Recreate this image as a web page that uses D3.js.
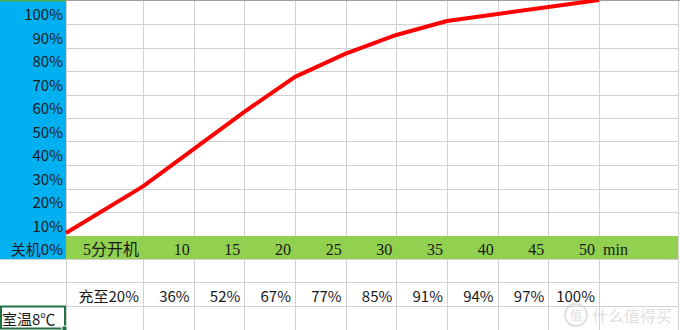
<!DOCTYPE html>
<html>
<head>
<meta charset="utf-8">
<script src="https://cdn.jsdelivr.net/npm/d3@7"></script>
<style>
  body { margin: 0; background: #fff; }
  svg { display: block; }
</style>
</head>
<body>
<div id="sheet"></div>
<script>
// data
const times = [0, 5, 10, 15, 20, 25, 30, 35, 40, 45, 50]
const charge = [0, 20, 36, 52, 67, 77, 85, 91, 94, 97, 100]
const yLabels = ["100%", "90%", "80%", "70%", "60%", "50%", "40%", "30%", "20%", "10%", "关机0%"]
const xLabels = ["5分开机", "10", "15", "20", "25", "30", "35", "40", "45", "50"]
const unitLabel = "min"
const chargeLabels = charge.slice(1).map((v, i) => (i === 0 ? "充至" : "") + v + "%")
const noteLabel = "室温8℃"
const watermark = "什么值得买"

const w = 680
const h = 330
const colA = 66
const rightEdge = 678

const svg = d3.select("#sheet")
    .append("svg")
    .attr("width", w)
    .attr("height", h)

// scales: minutes -> column right edge, percent -> chart y, row index -> row top
const x = d3.scaleLinear().domain([0, 5, 50]).range([colA, 143, 599])
const y = d3.scaleLinear().domain([0, 100]).range([233, 0])
const row = d3.scaleLinear().domain([0, 14]).range([0.5, 329.5])
const crisp = v => Math.round(v) + 0.5

// grid lines
const grid = svg.append("g").attr("stroke", "#d0d0d0").attr("stroke-width", 1)
grid.selectAll("line.h")
    .data(d3.range(1, 15))
    .enter().append("line")
    .attr("class", "h")
    .attr("x1", 0).attr("x2", rightEdge)
    .attr("y1", d => crisp(row(d))).attr("y2", d => crisp(row(d)))
grid.selectAll("line.v")
    .data(times.map(t => x(t)).concat([rightEdge]))
    .enter().append("line")
    .attr("class", "v")
    .attr("x1", d => crisp(d)).attr("x2", d => crisp(d))
    .attr("y1", 0).attr("y2", h)

// coloured cells
svg.append("rect")
    .attr("x", 0).attr("y", 0)
    .attr("width", colA).attr("height", Math.round(row(11)))
    .attr("fill", "#00b0f0")
svg.append("rect")
    .attr("x", colA).attr("y", Math.round(row(10)))
    .attr("width", rightEdge - colA).attr("height", Math.round(row(11)) - Math.round(row(10)))
    .attr("fill", "#92d050")

// top border
svg.append("line")
    .attr("x1", colA).attr("x2", w).attr("y1", 0.5).attr("y2", 0.5)
    .attr("stroke", "#a0a0a0")
svg.append("rect")
    .attr("x", 0).attr("y", 0).attr("width", colA).attr("height", 1.5)
    .attr("fill", "#4caf50")

// y labels in the blue column
svg.append("g")
    .selectAll("text")
    .data(yLabels)
    .enter().append("text")
    .attr("x", colA - 3)
    .attr("y", (d, i) => row(i + 1) - 4)
    .attr("text-anchor", "end")
    .attr("font-family", "Noto Sans CJK SC, sans-serif")
    .attr("font-size", "15px")
    .attr("fill", "#1a1a1a")
    .text(d => d)

// minute labels in the green row
svg.append("g")
    .selectAll("text")
    .data(xLabels)
    .enter().append("text")
    .attr("x", (d, i) => x(times[i + 1]) - 4)
    .attr("y", row(11) - 4)
    .attr("text-anchor", "end")
    .attr("font-family", "Liberation Serif, Noto Sans CJK SC, serif")
    .attr("font-size", "16px")
    .attr("fill", "#1a1a1a")
    .text(d => d)
svg.append("text")
    .attr("x", x(50) + 4)
    .attr("y", row(11) - 4)
    .attr("font-family", "Liberation Serif, serif")
    .attr("font-size", "16px")
    .attr("fill", "#1a1a1a")
    .text(unitLabel)

// charge labels
svg.append("g")
    .selectAll("text")
    .data(chargeLabels)
    .enter().append("text")
    .attr("x", (d, i) => x(times[i + 1]) - 4)
    .attr("y", row(13) - 4)
    .attr("text-anchor", "end")
    .attr("font-family", "Noto Sans CJK SC, sans-serif")
    .attr("font-size", "15px")
    .attr("fill", "#1a1a1a")
    .text(d => d)

// note cell, selected
svg.append("text")
    .attr("x", 2)
    .attr("y", row(14) - 5)
    .attr("font-family", "Noto Sans CJK SC, sans-serif")
    .attr("font-size", "15px")
    .attr("fill", "#1a1a1a")
    .text(noteLabel)
svg.append("rect")
    .attr("x", 1).attr("y", Math.round(row(13)) + 0.5)
    .attr("width", colA - 2).attr("height", 22)
    .attr("fill", "none")
    .attr("stroke", "#217346")
    .attr("stroke-width", 2)
svg.append("rect")
    .attr("x", colA - 4).attr("y", h - 4)
    .attr("width", 5).attr("height", 5)
    .attr("fill", "#217346")
    .attr("stroke", "#fff")

// charge curve
const line = d3.line()
    .x(d => x(d.t))
    .y(d => y(d.v))
svg.append("path")
    .datum(times.map((t, i) => ({t: t, v: charge[i]})))
    .attr("d", line)
    .attr("fill", "none")
    .attr("stroke", "#ff0000")
    .attr("stroke-width", 4)
    .attr("stroke-linejoin", "round")

// watermark
const wm = svg.append("g").attr("opacity", 0.55)
wm.append("circle")
    .attr("cx", 576).attr("cy", 315).attr("r", 11)
    .attr("fill", "none").attr("stroke", "#c8c8c8").attr("stroke-width", 2)
wm.append("text")
    .attr("x", 576).attr("y", 320)
    .attr("text-anchor", "middle")
    .attr("font-family", "Noto Sans CJK SC, sans-serif")
    .attr("font-size", "12px")
    .attr("fill", "#c8c8c8")
    .text("值")
wm.append("text")
    .attr("x", 592).attr("y", 322)
    .attr("font-family", "Noto Sans CJK SC, sans-serif")
    .attr("font-size", "16px")
    .attr("fill", "#c8c8c8")
    .text(watermark)
</script>
</body>
</html>
